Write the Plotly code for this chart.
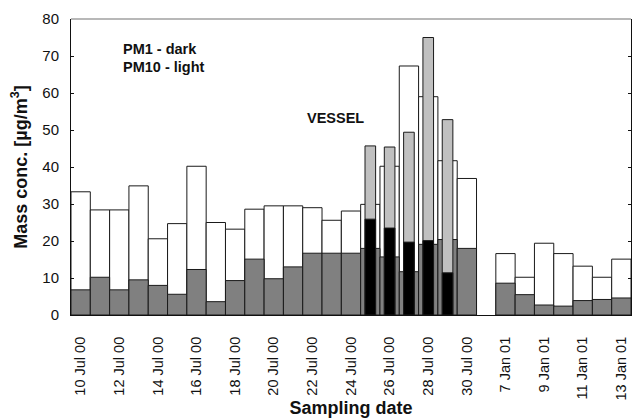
import plotly.graph_objects as go

# Sampling days (July 2000 then January 2001), one slot per day, a blank slot between campaigns
jul_days = ["10 Jul 00", "11 Jul 00", "12 Jul 00", "13 Jul 00", "14 Jul 00", "15 Jul 00",
            "16 Jul 00", "17 Jul 00", "18 Jul 00", "19 Jul 00", "20 Jul 00", "21 Jul 00",
            "22 Jul 00", "23 Jul 00", "24 Jul 00", "25 Jul 00", "26 Jul 00", "27 Jul 00",
            "28 Jul 00", "29 Jul 00", "30 Jul 00"]
jan_days = ["7 Jan 01", "8 Jan 01", "9 Jan 01", "10 Jan 01", "11 Jan 01", "12 Jan 01", "13 Jan 01"]

pm10_jul = [33.3, 28.4, 28.4, 34.9, 20.6, 24.7, 40.2, 25.0, 23.2, 28.6, 29.5, 29.5,
            29.0, 25.6, 28.1, 29.9, 40.2, 67.3, 59.0, 41.7, 36.9]
pm1_jul = [6.8, 10.2, 6.8, 9.5, 8.0, 5.6, 12.3, 3.6, 9.3, 15.1, 9.8, 13.0,
           16.7, 16.7, 16.7, 18.0, 15.7, 11.7, 19.1, 20.4, 18.0]
pm10_jan = [16.6, 10.2, 19.4, 16.6, 13.2, 10.2, 15.1]
pm1_jan = [8.6, 5.5, 2.7, 2.4, 3.9, 4.2, 4.6]

# Vessel samples (narrow bars)
vessel_days = ["25 Jul 00", "26 Jul 00", "27 Jul 00", "28 Jul 00", "29 Jul 00"]
vessel_pm10 = [45.7, 45.4, 49.4, 75.0, 52.8]
vessel_pm1 = [25.9, 23.5, 19.7, 20.1, 11.4]

tick_labels = ["10 Jul 00", "12 Jul 00", "14 Jul 00", "16 Jul 00", "18 Jul 00", "20 Jul 00",
               "22 Jul 00", "24 Jul 00", "26 Jul 00", "28 Jul 00", "30 Jul 00",
               "7 Jan 01", "9 Jan 01", "11 Jan 01", "13 Jan 01"]

# slot positions: July days, one empty slot, January days
slot_of = {d: i for i, d in enumerate(jul_days)}
slot_of.update({d: len(jul_days) + 1 + i for i, d in enumerate(jan_days)})
days = jul_days + jan_days
x_all = [slot_of[d] for d in days]
pm10_all = pm10_jul + pm10_jan
pm1_all = pm1_jul + pm1_jan
x_vessel = [slot_of[d] for d in vessel_days]
n_slots = len(jul_days) + 1 + len(jan_days)

line = dict(color="#1a1a1a", width=1)

fig = go.Figure()
fig.add_trace(go.Bar(x=x_all, y=pm10_all, width=1, marker=dict(color="white", line=line),
                     name="PM10"))
fig.add_trace(go.Bar(x=x_all, y=pm1_all, width=1, marker=dict(color="#808080", line=line),
                     name="PM1"))
fig.add_trace(go.Bar(x=x_vessel, y=vessel_pm10, width=0.55,
                     marker=dict(color="#c0c0c0", line=line), name="Vessel PM10"))
fig.add_trace(go.Bar(x=x_vessel, y=vessel_pm1, width=0.55,
                     marker=dict(color="black", line=line), name="Vessel PM1"))

font_family = "Liberation Sans"

fig.update_layout(
    width=632, height=418,
    margin=dict(l=71, r=1, t=19, b=103),
    barmode="overlay",
    showlegend=False,
    plot_bgcolor="white",
    paper_bgcolor="white",
    font=dict(family=font_family, color="#111", size=15),
    xaxis=dict(
        range=[-0.5, n_slots - 0.5],
        tickmode="array",
        tickvals=[slot_of[t] for t in tick_labels],
        ticktext=tick_labels,
        tickangle=-90,
        ticks="",
        showline=True, linecolor="#111", linewidth=1,
        showgrid=False, zeroline=False,
        automargin=False,
        tickfont=dict(family=font_family, size=14.5, color="#111"),
        ticklabelstandoff=15,
        title=dict(text="<b>Sampling date</b>", font=dict(family=font_family, size=18, color="#111"),
                   standoff=15),
    ),
    yaxis=dict(
        range=[0, 80], dtick=10,
        ticks="inside", ticklen=3, tickcolor="#111",
        showline=True, linecolor="#111", linewidth=1, mirror="ticks",
        showgrid=False, zeroline=False,
        automargin=False,
        tickfont=dict(family=font_family, size=15, color="#111"),
        ticklabelstandoff=8,
        title=dict(text="<b>Mass conc. [µg/m<sup>3</sup>]</b>",
                   font=dict(family=font_family, size=18, color="#111"), standoff=10),
    ),
    shapes=[dict(type="line", xref="paper", yref="paper", x0=0, x1=1, y0=1, y1=1,
                 line=dict(color="#a0a0a0", width=1.5))],
    annotations=[
        dict(text="<b>PM1 - dark</b>", xref="paper", yref="paper", x=0.09, y=0.9,
             xanchor="left", yanchor="middle", showarrow=False,
             font=dict(family=font_family, size=14.5, color="#111")),
        dict(text="<b>PM10 - light</b>", xref="paper", yref="paper", x=0.09, y=0.837,
             xanchor="left", yanchor="middle", showarrow=False,
             font=dict(family=font_family, size=14.5, color="#111")),
        dict(text="<b>VESSEL</b>", xref="paper", yref="paper", x=0.418, y=0.665,
             xanchor="left", yanchor="middle", showarrow=False,
             font=dict(family=font_family, size=14.5, color="#111")),
    ],
)

fig.write_html("out.html")
